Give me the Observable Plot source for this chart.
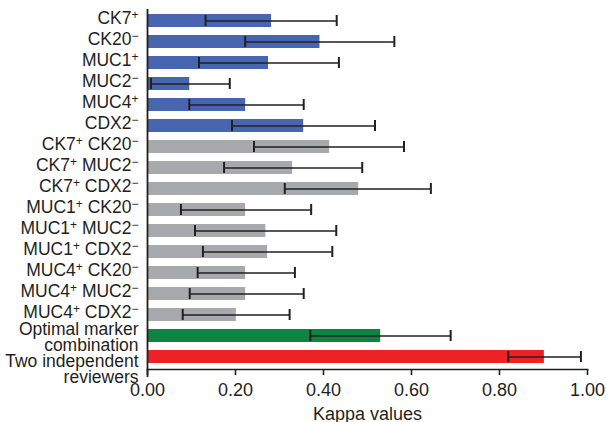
<!DOCTYPE html>
<html>
<head>
<meta charset="utf-8">
<script src="https://cdn.jsdelivr.net/npm/d3@7"></script>
<script src="https://cdn.jsdelivr.net/npm/@observablehq/plot@0.6"></script>
<style>
  body { margin: 0; background: #fff; }
  #chart svg { display: block; }
</style>
</head>
<body>
<div id="chart"></div>
<script>
const labels = [
  "CK7⁺", "CK20⁻", "MUC1⁺", "MUC2⁻", "MUC4⁺", "CDX2⁻",
  "CK7⁺ CK20⁻", "CK7⁺ MUC2⁻", "CK7⁺ CDX2⁻",
  "MUC1⁺ CK20⁻", "MUC1⁺ MUC2⁻", "MUC1⁺ CDX2⁻",
  "MUC4⁺ CK20⁻", "MUC4⁺ MUC2⁻", "MUC4⁺ CDX2⁻",
  "Optimal marker\ncombination", "Two independent\nreviewers"
];
const values = [0.282, 0.392, 0.275, 0.096, 0.223, 0.355,
  0.414, 0.330, 0.480, 0.223, 0.269, 0.273, 0.223, 0.223, 0.202,
  0.530, 0.902];
const lows = [0.132, 0.222, 0.117, 0.008, 0.095, 0.192,
  0.242, 0.174, 0.312, 0.076, 0.108, 0.126, 0.114, 0.096, 0.080,
  0.370, 0.820];
const highs = [0.430, 0.561, 0.435, 0.187, 0.355, 0.517,
  0.583, 0.488, 0.644, 0.372, 0.429, 0.420, 0.335, 0.355, 0.323,
  0.689, 0.985];
const groups = ["single","single","single","single","single","single",
  "pair","pair","pair","pair","pair","pair","pair","pair","pair",
  "optimal","reviewers"];
const groupNames = ["single", "pair", "optimal", "reviewers"];
const groupColors = ["#4866b0", "#a8a9ac", "#0e8442", "#ed2226"];
const xTicks = [0, 0.2, 0.4, 0.6, 0.8, 1.0];

const data = labels.map((label, i) => ({
  label, value: values[i], low: lows[i], high: highs[i], group: groups[i]
}));

const ink = "#231f20";
const yAxisOpts = { tickSize: 0, tickPadding: 9, fontSize: 17.5, lineHeight: 0.92, label: null, className: "ylab" };
const chart = Plot.plot({
  width: 606,
  height: 422,
  marginLeft: 147,
  marginRight: 19,
  marginTop: 9,
  marginBottom: 53,
  style: { fontFamily: "'Liberation Sans', Arial, sans-serif", fontSize: "17px", color: ink, background: "#fff" },
  x: { domain: [0, 1] },
  y: { domain: labels, paddingInner: 0.37, paddingOuter: 0.185 },
  color: { domain: groupNames, range: groupColors },
  marks: [
    Plot.barX(data, { x: "value", y: "label", fill: "group" }),
    Plot.ruleY(data, { y: "label", x1: "low", x2: "high", stroke: ink, strokeWidth: 1.6 }),
    Plot.tickX(data, { x: "low", y: "label", stroke: ink, strokeWidth: 2, insetTop: 1, insetBottom: 1 }),
    Plot.tickX(data, { x: "high", y: "label", stroke: ink, strokeWidth: 2, insetTop: 1, insetBottom: 1 }),
    Plot.ruleX([0], { stroke: ink, strokeWidth: 1.8, insetBottom: -8 }),
    Plot.frame({ anchor: "bottom", stroke: ink, strokeWidth: 1.6 }),
    Plot.axisY({ ...yAxisOpts, ticks: labels.slice(0, -2), dy: -2 }),
    Plot.axisY({ ...yAxisOpts, ticks: labels.slice(-2, -1), dy: 2 }),
    Plot.axisY({ ...yAxisOpts, ticks: labels.slice(-1), dy: 13 }),
    Plot.axisX({ ticks: xTicks, tickFormat: d3.format(".2f"), tickSize: 6, tickPadding: 8, fontSize: 18,
      stroke: ink, strokeWidth: 1.6,
      label: "Kappa values", labelAnchor: "center", labelArrow: "none", labelOffset: 50 })
  ]
});

// render superscript signs as raised, smaller tspans
const SVGNS = "http://www.w3.org/2000/svg";
chart.querySelectorAll(".ylab text").forEach(text => {
  const leaves = text.querySelectorAll("tspan").length ? Array.from(text.querySelectorAll("tspan")) : [text];
  leaves.forEach(node => {
    const s = node.textContent;
    if (!/[⁺⁻]/.test(s)) return;
    node.textContent = "";
    for (const part of s.split(/([⁺⁻])/)) {
      if (!part) continue;
      if (part === "⁺" || part === "⁻") {
        const t = document.createElementNS(SVGNS, "tspan");
        t.setAttribute("font-size", "12");
        t.setAttribute("baseline-shift", "5.5");
        t.textContent = part === "⁺" ? "+" : "\u2212";
        node.appendChild(t);
      } else {
        node.appendChild(document.createTextNode(part));
      }
    }
  });
});
document.getElementById("chart").appendChild(chart);
</script>
</body>
</html>
